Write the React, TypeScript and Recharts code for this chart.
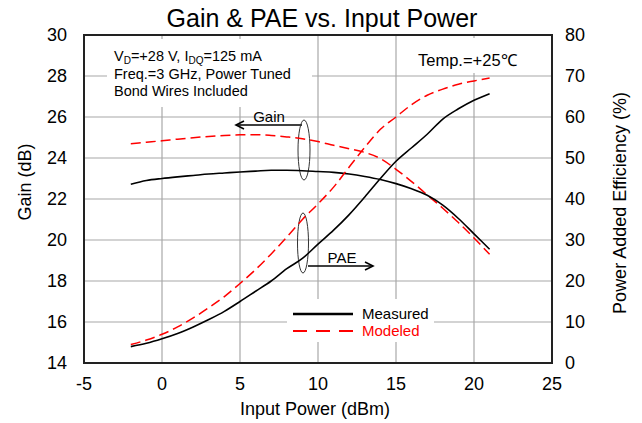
import { CartesianGrid, ComposedChart, Line, ReferenceArea, XAxis, YAxis } from "recharts";

const pin = [-2, -1, 0, 1, 2, 3, 4, 5, 6, 7, 8, 9, 10, 11, 12, 13, 14, 15, 16, 17, 18, 19, 20, 21];
const gainMeasured = [22.72, 22.9, 23.0, 23.08, 23.15, 23.22, 23.27, 23.32, 23.36, 23.4, 23.4, 23.38, 23.34, 23.3, 23.22, 23.1, 22.95, 22.75, 22.5, 22.18, 21.7, 21.05, 20.3, 19.55];
const gainModeled = [24.7, 24.77, 24.84, 24.92, 24.99, 25.05, 25.1, 25.13, 25.14, 25.1, 25.03, 24.94, 24.8, 24.62, 24.45, 24.27, 23.97, 23.45, 22.85, 22.2, 21.55, 20.85, 20.1, 19.3];
const paeMeasured = [4.0, 4.8, 5.9, 7.2, 8.8, 10.6, 12.6, 15.0, 17.5, 20.0, 23.0, 25.5, 29.0, 32.4, 36.2, 40.5, 45.0, 49.2, 52.5, 55.8, 59.5, 62.0, 64.1, 65.7];
const paeModeled = [4.5, 5.6, 7.0, 8.8, 11.0, 13.5, 16.2, 19.4, 22.8, 26.6, 30.7, 35.0, 38.8, 42.9, 47.8, 52.6, 57.0, 60.0, 63.0, 65.3, 66.8, 68.0, 68.8, 69.5];

const xTicks = [-5, 0, 5, 10, 15, 20, 25];
const gainTicks = [14, 16, 18, 20, 22, 24, 26, 28, 30];
const paeTicks = [0, 10, 20, 30, 40, 50, 60, 70, 80];

const data = pin.map((p, i) => ({
  pin: p,
  gainMeas: gainMeasured[i],
  gainMod: gainModeled[i],
  paeMeas: paeMeasured[i],
  paeMod: paeModeled[i],
}));

const font = "'Liberation Sans', Arial, sans-serif";
const tick = { fill: "#000", fontSize: 18, fontFamily: font };

export default function App() {
  return (
    <div style={{ position: "absolute", left: 0, top: 0, width: 642, height: 423, background: "#fff" }}>
      <ComposedChart width={642} height={423} data={data} margin={{ top: 35, right: 40, bottom: 30, left: 34 }}>
        <CartesianGrid yAxisId="left" stroke="#a8a8a8" strokeWidth={1.2} />
        <XAxis
          dataKey="pin"
          type="number"
          domain={[-5, 25]}
          ticks={xTicks}
          tickLine={false}
          axisLine={false}
          tick={tick}
          tickMargin={8}
          height={30}
        />
        <YAxis
          yAxisId="left"
          domain={[14, 30]}
          ticks={gainTicks}
          tickLine={false}
          axisLine={false}
          tick={tick}
          tickMargin={11}
          width={50}
        />
        <YAxis
          yAxisId="right"
          orientation="right"
          domain={[0, 80]}
          ticks={paeTicks}
          tickLine={false}
          axisLine={false}
          tick={{ ...tick, textAnchor: "start" }}
          tickMargin={7}
          width={50}
        />
        <ReferenceArea yAxisId="left" x1={-5} x2={25} y1={14} y2={30} fill="none" stroke="#222" strokeWidth={2} />
        <Line yAxisId="left" type="monotone" dataKey="gainMod" stroke="#ff0000" strokeWidth={1.5} strokeDasharray="10 5" dot={false} isAnimationActive={false} />
        <Line yAxisId="left" type="monotone" dataKey="gainMeas" stroke="#000" strokeWidth={1.6} dot={false} isAnimationActive={false} />
        <Line yAxisId="right" type="monotone" dataKey="paeMod" stroke="#ff0000" strokeWidth={1.5} strokeDasharray="10 5" dot={false} isAnimationActive={false} />
        <Line yAxisId="right" type="monotone" dataKey="paeMeas" stroke="#000" strokeWidth={1.6} dot={false} isAnimationActive={false} />

        {/* white boxes behind the notes */}
        <rect x={107} y={39} width={205} height={68} fill="#fff" />
        <rect x={410} y={38} width={125} height={35} fill="#fff" />
        <rect x={287} y={299} width={147} height={43} fill="#fff" />

        <text x={322} y={27} textAnchor="middle" fontSize={25} fontFamily={font} fill="#000">Gain &amp; PAE vs. Input Power</text>
        <text x={315} y={415} textAnchor="middle" fontSize={18} fontFamily={font} fill="#000">Input Power (dBm)</text>
        <text x={31} y={182} textAnchor="middle" fontSize={18} fontFamily={font} fill="#000" transform="rotate(-90 31 182)">Gain (dB)</text>
        <text x={626} y={203} textAnchor="middle" fontSize={18} fontFamily={font} fill="#000" transform="rotate(-90 626 203)">Power Added Efficiency (%)</text>

        <text x={114} y={61} fontSize={14.5} fontFamily={font} fill="#000">
          V<tspan fontSize={10} dy={3}>D</tspan>
          <tspan dy={-3}>=+28 V, I</tspan>
          <tspan fontSize={10} dy={3}>DQ</tspan>
          <tspan dy={-3}>=125 mA</tspan>
        </text>
        <text x={114} y={78.5} fontSize={14.5} fontFamily={font} fill="#000">Freq.=3 GHz, Power Tuned</text>
        <text x={114} y={96} fontSize={14.5} fontFamily={font} fill="#000">Bond Wires Included</text>
        <text x={418} y={66} fontSize={16.5} fontFamily={font} fill="#000">Temp.=+25℃</text>

        <text x={269} y={122} textAnchor="middle" fontSize={15} fontFamily={font} fill="#000">Gain</text>
        <line x1={302} y1={125} x2={236} y2={125} stroke="#000" strokeWidth={1.6} />
        <polyline points="244,121 236,125 244,129" fill="none" stroke="#000" strokeWidth={1.6} />
        <ellipse cx={304} cy={150} rx={6} ry={30} fill="none" stroke="#333" strokeWidth={1} />

        <text x={342} y={263} textAnchor="middle" fontSize={15} fontFamily={font} fill="#000">PAE</text>
        <line x1={308} y1={266} x2={373} y2={266} stroke="#000" strokeWidth={1.6} />
        <polyline points="365,262 373,266 365,270" fill="none" stroke="#000" strokeWidth={1.6} />
        <ellipse cx={303} cy={243} rx={5.5} ry={30} fill="none" stroke="#333" strokeWidth={1} />

        <line x1={293} y1={314} x2={353} y2={314} stroke="#000" strokeWidth={2.5} />
        <line x1={293} y1={331} x2={353} y2={331} stroke="#ff0000" strokeWidth={2} strokeDasharray="14 9" />
        <text x={362} y={319} fontSize={15} fontFamily={font} fill="#000">Measured</text>
        <text x={362} y={336} fontSize={15} fontFamily={font} fill="#ff0000">Modeled</text>
      </ComposedChart>
    </div>
  );
}
